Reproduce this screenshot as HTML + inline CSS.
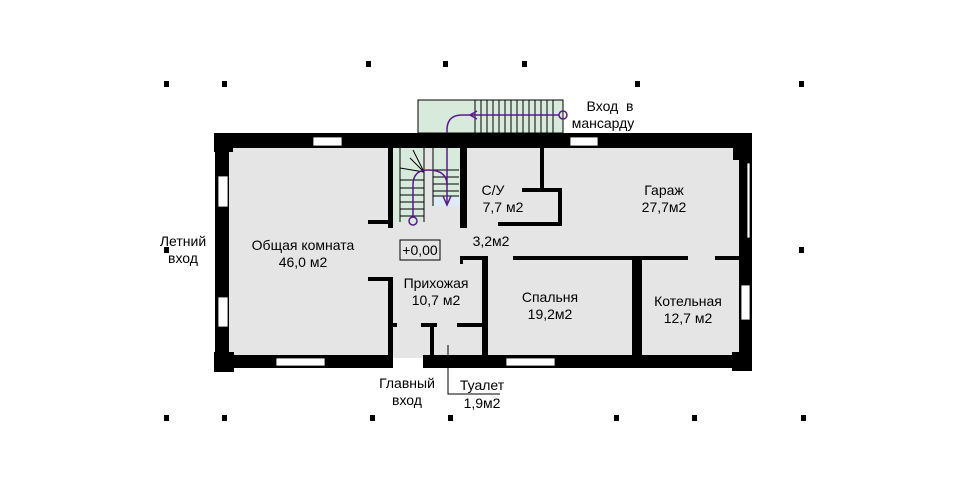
<!DOCTYPE html>
<html><head><meta charset="utf-8"><style>
html,body{margin:0;padding:0;background:#fff;}
svg{display:block;}
text{font-family:"Liberation Sans",sans-serif;font-size:14px;fill:#000;text-anchor:middle;}
</style></head><body>
<svg width="970" height="500" viewBox="0 0 970 500" xmlns="http://www.w3.org/2000/svg">
<rect x="229" y="147" width="512" height="210" fill="#e5e5e5"/>
<rect x="393" y="352" width="37" height="6" fill="#e5e5e5"/>
<rect x="217" y="232" width="14" height="41" fill="#e5e5e5"/>
<rect x="418" y="100" width="145" height="33" fill="#d8eadb" stroke="#000" stroke-width="1"/>
<g stroke="#000" stroke-width="1">
<line x1="475" y1="100" x2="475" y2="133"/><line x1="481" y1="100" x2="481" y2="133"/><line x1="487" y1="100" x2="487" y2="133"/><line x1="493" y1="100" x2="493" y2="133"/><line x1="499" y1="100" x2="499" y2="133"/><line x1="505" y1="100" x2="505" y2="133"/><line x1="511" y1="100" x2="511" y2="133"/><line x1="517" y1="100" x2="517" y2="133"/><line x1="523" y1="100" x2="523" y2="133"/><line x1="529" y1="100" x2="529" y2="133"/><line x1="535" y1="100" x2="535" y2="133"/><line x1="541" y1="100" x2="541" y2="133"/><line x1="547" y1="100" x2="547" y2="133"/><line x1="553" y1="100" x2="553" y2="133"/>
</g>
<rect x="393" y="148" width="31" height="74" fill="#d8eadb"/>
<rect x="433" y="148" width="27" height="58" fill="#d8eadb"/>
<rect x="433" y="196" width="27" height="10" fill="#dcebf5"/>
<g stroke="#000" stroke-width="1">
<line x1="400" y1="180" x2="424" y2="180"/><line x1="400" y1="188" x2="424" y2="188"/><line x1="400" y1="195" x2="424" y2="195"/><line x1="400" y1="202" x2="424" y2="202"/><line x1="400" y1="209" x2="424" y2="209"/><line x1="400" y1="216" x2="424" y2="216"/>
<line x1="433" y1="170" x2="459" y2="170"/><line x1="433" y1="177" x2="459" y2="177"/><line x1="433" y1="184" x2="459" y2="184"/><line x1="433" y1="191" x2="459" y2="191"/><line x1="433" y1="196" x2="459" y2="196"/>
<line x1="424" y1="148" x2="424" y2="222"/><line x1="433" y1="148" x2="433" y2="206"/><line x1="400" y1="148" x2="400" y2="222"/>
<line x1="400" y1="168" x2="424" y2="172"/><line x1="410" y1="158" x2="424" y2="172"/><line x1="413" y1="150" x2="424" y2="172"/>
</g>
<g stroke="#5a1a8c" stroke-width="1.5" fill="none">
<circle cx="563" cy="115" r="4"/><line x1="559" y1="115" x2="462" y2="115"/>
<path d="M462 115 Q447 115 447 130 L447 205"/>
<path d="M443 196 L447 205 L451 196"/>
<path d="M477 111 L470 115 L477 119"/>
<circle cx="413" cy="221" r="4"/>
<path d="M413 217 L413 185 Q413 170 428 170 Q447 170 447 185"/>
</g>
<g fill="#000">
<rect x="214" y="133" width="536" height="15"/>
<rect x="214" y="133" width="19" height="19"/>
<rect x="733" y="133" width="19" height="27"/>
<rect x="215" y="148" width="14" height="210"/>
<rect x="214" y="352" width="20" height="20"/>
<rect x="215" y="355" width="178" height="13"/>
<rect x="423" y="355" width="329" height="13"/>
<rect x="732" y="352" width="20" height="19"/>
<rect x="739" y="148" width="13" height="210"/>
<rect x="388" y="148" width="5" height="80"/>
<rect x="368" y="220" width="25" height="4"/>
<rect x="368" y="277" width="25" height="4"/>
<rect x="388" y="277" width="5" height="80"/>
<rect x="460" y="148" width="7" height="80"/>
<rect x="498" y="222" width="64" height="4"/>
<rect x="540" y="148" width="4" height="42"/>
<rect x="522" y="188" width="40" height="4"/>
<rect x="558" y="188" width="4" height="38"/>
<rect x="460" y="256" width="28" height="4"/>
<rect x="460" y="256" width="3" height="8"/>
<rect x="513" y="256" width="175" height="4"/>
<rect x="715" y="256" width="26" height="4"/>
<rect x="482" y="256" width="6" height="100"/>
<rect x="632" y="256" width="10" height="100"/>
<rect x="393" y="323" width="4" height="4"/>
<rect x="421" y="323" width="16" height="4"/>
<rect x="430" y="323" width="4" height="33"/>
<rect x="457" y="323" width="26" height="4"/>
</g>
<g fill="#fff" stroke="#000" stroke-width="0.8">
<rect x="313" y="137" width="29" height="9"/>
<rect x="570" y="137" width="28" height="9"/>
<rect x="218" y="176" width="10" height="31"/>
<rect x="218" y="297" width="10" height="30"/>
<rect x="276" y="358" width="49" height="8"/>
<rect x="506" y="358" width="49" height="8"/>
<rect x="741" y="285" width="9" height="35"/>
<rect x="747" y="163" width="3" height="75"/>
</g>
<rect x="396" y="355" width="27" height="14" fill="#fff"/>
<rect x="396" y="355" width="27" height="3" fill="#e5e5e5"/>
<polyline points="448,345 448,394 500,394" fill="none" stroke="#000" stroke-width="1"/>
<rect x="400" y="240" width="40" height="20" fill="none" stroke="#000" stroke-width="1"/>
<text x="420" y="255">+0,00</text>
<text x="183" y="246">Летний</text><text x="183" y="263">вход</text>
<text x="303" y="250">Общая комната</text><text x="303" y="267">46,0 м2</text>
<text x="493" y="195">С/У</text><text x="503" y="212">7,7 м2</text>
<text x="491" y="246">3,2м2</text>
<text x="664" y="195">Гараж</text><text x="664" y="212">27,7м2</text>
<text x="436" y="288">Прихожая</text><text x="436" y="305">10,7 м2</text>
<text x="550" y="302">Спальня</text><text x="550" y="319">19,2м2</text>
<text x="688" y="306">Котельная</text><text x="688" y="323">12,7 м2</text>
<text x="407" y="388">Главный</text><text x="407" y="405">вход</text>
<text x="482" y="390">Туалет</text><text x="482" y="408">1,9м2</text>
<text x="610" y="111" xml:space="preserve">Вход  в</text><text x="603" y="128">мансарду</text>
<g fill="#000">
<rect x="366" y="61" width="5" height="6"/><rect x="443" y="61" width="5" height="6"/><rect x="522" y="61" width="5" height="6"/>
<rect x="164" y="81" width="5" height="6"/><rect x="222" y="81" width="5" height="6"/><rect x="635" y="81" width="5" height="6"/><rect x="799" y="81" width="5" height="6"/>
<rect x="799" y="247" width="5" height="6"/><rect x="164" y="247" width="5" height="6"/>
<rect x="164" y="415" width="5" height="6"/><rect x="222" y="415" width="5" height="6"/><rect x="370" y="415" width="5" height="6"/><rect x="448" y="415" width="5" height="6"/><rect x="614" y="415" width="5" height="6"/><rect x="692" y="415" width="5" height="6"/><rect x="801" y="415" width="5" height="6"/>
</g>
</svg>
</body></html>
